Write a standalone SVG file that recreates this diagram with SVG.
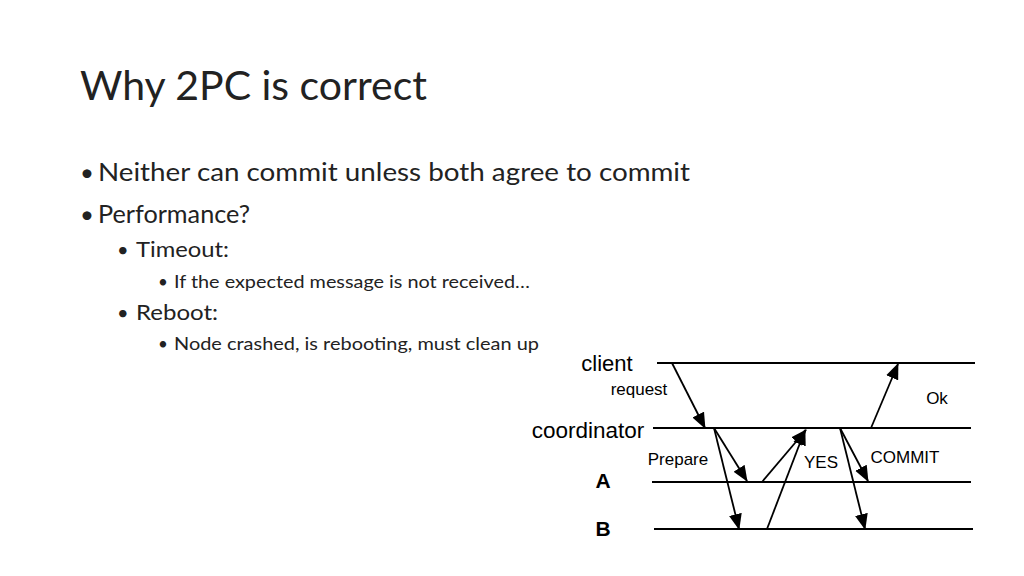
<svg xmlns="http://www.w3.org/2000/svg" width="1024" height="576" viewBox="0 0 1024 576">
<style>
.t{font-family:Lato,"Open Sans",sans-serif;fill:#222}
.d{font-family:"Liberation Sans",Arial,sans-serif;fill:#000}
.ln{stroke:#000;stroke-width:2}
.ar{stroke:#000;stroke-width:1.8;marker-end:url(#ah)}
</style>
<defs><marker id="ah" markerWidth="16" markerHeight="14" refX="15" refY="6.5" orient="auto" markerUnits="userSpaceOnUse" viewBox="0 0 16 13"><path d="M0,0L16,6.5L0,13z" fill="#000"/></marker></defs>
<rect width="1024" height="576" fill="#fff"/>
<text class="t" x="80" y="100" font-size="41">Why 2PC is correct</text>
<g class="t">
<text x="80" y="181" font-size="24">•</text><text x="98" y="181" font-size="25" textLength="592" lengthAdjust="spacingAndGlyphs">Neither can commit unless both agree to commit</text>
<text x="80" y="223" font-size="24">•</text><text x="98" y="223" font-size="25" textLength="152" lengthAdjust="spacingAndGlyphs">Performance?</text>
<text x="117" y="257" font-size="20">•</text><text x="136" y="257" font-size="21" textLength="93" lengthAdjust="spacingAndGlyphs">Timeout:</text>
<text x="158" y="288" font-size="17">•</text><text x="174" y="288" font-size="17.5" textLength="356" lengthAdjust="spacingAndGlyphs">If the expected message is not received…</text>
<text x="117" y="320" font-size="20">•</text><text x="136" y="320" font-size="21" textLength="82" lengthAdjust="spacingAndGlyphs">Reboot:</text>
<text x="158" y="350" font-size="17">•</text><text x="174" y="350" font-size="17.5" textLength="365" lengthAdjust="spacingAndGlyphs">Node crashed, is rebooting, must clean up</text>
</g>
<g id="client"><line class="ln" x1="657" y1="363" x2="975" y2="363"/><text class="d" x="607" y="371" font-size="22" text-anchor="middle">client</text></g>
<g id="coordinator"><line class="ln" x1="653" y1="428" x2="971" y2="428"/><text class="d" x="588" y="438" font-size="22.5" text-anchor="middle">coordinator</text></g>
<g id="A"><line class="ln" x1="652" y1="482" x2="971" y2="482"/><text class="d" x="603" y="488" font-size="21" font-weight="bold" text-anchor="middle">A</text></g>
<g id="B"><line class="ln" x1="654" y1="529" x2="973" y2="529"/><text class="d" x="603" y="536" font-size="21" font-weight="bold" text-anchor="middle">B</text></g>
<g id="connectors">
<line class="ar" x1="672" y1="363" x2="705" y2="428"/>
<line class="ar" x1="714" y1="428" x2="747" y2="481"/>
<line class="ar" x1="714" y1="428" x2="739" y2="529"/>
<line class="ar" x1="762" y1="482" x2="806" y2="430"/>
<line class="ar" x1="767" y1="529" x2="805" y2="430"/>
<line class="ar" x1="840" y1="428" x2="868" y2="481"/>
<line class="ar" x1="840" y1="428" x2="865" y2="529"/>
<line class="ar" x1="871" y1="428" x2="898" y2="364"/>
<text class="d" x="639" y="395" font-size="17" text-anchor="middle">request</text>
<text class="d" x="937" y="404" font-size="17" text-anchor="middle">Ok</text>
<text class="d" x="678" y="465" font-size="17" text-anchor="middle">Prepare</text>
<text class="d" x="821" y="468" font-size="17" text-anchor="middle">YES</text>
<text class="d" x="905" y="463" font-size="17" text-anchor="middle">COMMIT</text>
</g>
</svg>
